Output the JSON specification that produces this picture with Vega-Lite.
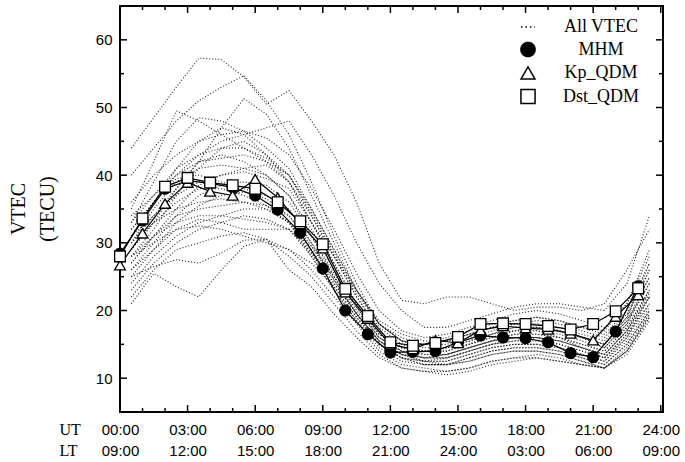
{
"$schema": "https://vega.github.io/schema/vega-lite/v6.json",
"width": 543, "height": 406,
"autosize": "none",
"padding": {"left": 120, "top": 6, "right": 22, "bottom": 50},
"background": "white",
"config": {"view": {"stroke": "black", "strokeWidth": 2}, "scale": {"continuousPadding": 0}},
"title": {"text": ["VTEC", "(TECU)"], "orient": "left", "anchor": "middle", "frame": "group", "baseline": "bottom", "offset": -19, "font": "Liberation Serif", "fontSize": 20, "fontWeight": "normal", "color": "black", "lineHeight": 29},
"datasets": {
"xticks": [
{"hour":0,"kind":"major"},{"hour":1,"kind":"minor"},{"hour":2,"kind":"minor"},{"hour":3,"kind":"major"},{"hour":4,"kind":"minor"},{"hour":5,"kind":"minor"},{"hour":6,"kind":"major"},{"hour":7,"kind":"minor"},{"hour":8,"kind":"minor"},{"hour":9,"kind":"major"},{"hour":10,"kind":"minor"},{"hour":11,"kind":"minor"},{"hour":12,"kind":"major"},{"hour":13,"kind":"minor"},{"hour":14,"kind":"minor"},{"hour":15,"kind":"major"},{"hour":16,"kind":"minor"},{"hour":17,"kind":"minor"},{"hour":18,"kind":"major"},{"hour":19,"kind":"minor"},{"hour":20,"kind":"minor"},{"hour":21,"kind":"major"},{"hour":22,"kind":"minor"},{"hour":23,"kind":"minor"},{"hour":24,"kind":"major"}
],
"yticks": [
{"tec":10,"kind":"major"},{"tec":15,"kind":"minor"},{"tec":20,"kind":"major"},{"tec":25,"kind":"minor"},{"tec":30,"kind":"major"},{"tec":35,"kind":"minor"},{"tec":40,"kind":"major"},{"tec":45,"kind":"minor"},{"tec":50,"kind":"major"},{"tec":55,"kind":"minor"},{"tec":60,"kind":"major"}
],
"days": [
{"day":"C1","hour":0.5,"tec":44},{"day":"C1","hour":1.5,"tec":48.5},{"day":"C1","hour":2.5,"tec":53},{"day":"C1","hour":3.5,"tec":57.3},{"day":"C1","hour":4.5,"tec":57.1},{"day":"C1","hour":5.5,"tec":54.5},{"day":"C1","hour":6.5,"tec":50.5},{"day":"C1","hour":7.5,"tec":52.5},{"day":"C1","hour":8.5,"tec":48},{"day":"C1","hour":9.5,"tec":43},{"day":"C1","hour":10.5,"tec":36},{"day":"C1","hour":11.5,"tec":27},{"day":"C1","hour":12.5,"tec":21.5},{"day":"C1","hour":13.5,"tec":21},{"day":"C1","hour":14.5,"tec":22},{"day":"C1","hour":15.5,"tec":22},{"day":"C1","hour":16.5,"tec":21},{"day":"C1","hour":17.5,"tec":20},{"day":"C1","hour":18.5,"tec":20.5},{"day":"C1","hour":19.5,"tec":20.5},{"day":"C1","hour":20.5,"tec":20},{"day":"C1","hour":21.5,"tec":21},{"day":"C1","hour":22.5,"tec":26},{"day":"C1","hour":23.5,"tec":32},
{"day":"C2","hour":0.5,"tec":40},{"day":"C2","hour":1.5,"tec":44},{"day":"C2","hour":2.5,"tec":48},{"day":"C2","hour":3.5,"tec":51},{"day":"C2","hour":4.5,"tec":53},{"day":"C2","hour":5.5,"tec":54.7},{"day":"C2","hour":6.5,"tec":51},{"day":"C2","hour":7.5,"tec":46},{"day":"C2","hour":8.5,"tec":39},{"day":"C2","hour":9.5,"tec":31},{"day":"C2","hour":10.5,"tec":24},{"day":"C2","hour":11.5,"tec":18},{"day":"C2","hour":12.5,"tec":15.5},{"day":"C2","hour":13.5,"tec":15},{"day":"C2","hour":14.5,"tec":16},{"day":"C2","hour":15.5,"tec":17},{"day":"C2","hour":16.5,"tec":18},{"day":"C2","hour":17.5,"tec":18.5},{"day":"C2","hour":18.5,"tec":19},{"day":"C2","hour":19.5,"tec":18.5},{"day":"C2","hour":20.5,"tec":17.5},{"day":"C2","hour":21.5,"tec":17},{"day":"C2","hour":22.5,"tec":21},{"day":"C2","hour":23.5,"tec":28},
{"day":"C3","hour":0.5,"tec":35},{"day":"C3","hour":1.5,"tec":42},{"day":"C3","hour":2.5,"tec":49.5},{"day":"C3","hour":3.5,"tec":48},{"day":"C3","hour":4.5,"tec":46},{"day":"C3","hour":5.5,"tec":44},{"day":"C3","hour":6.5,"tec":42},{"day":"C3","hour":7.5,"tec":39},{"day":"C3","hour":8.5,"tec":34},{"day":"C3","hour":9.5,"tec":28},{"day":"C3","hour":10.5,"tec":22},{"day":"C3","hour":11.5,"tec":17.5},{"day":"C3","hour":12.5,"tec":15},{"day":"C3","hour":13.5,"tec":14},{"day":"C3","hour":14.5,"tec":14.5},{"day":"C3","hour":15.5,"tec":15},{"day":"C3","hour":16.5,"tec":16},{"day":"C3","hour":17.5,"tec":17},{"day":"C3","hour":18.5,"tec":17},{"day":"C3","hour":19.5,"tec":16.5},{"day":"C3","hour":20.5,"tec":15.5},{"day":"C3","hour":21.5,"tec":14.5},{"day":"C3","hour":22.5,"tec":18},{"day":"C3","hour":23.5,"tec":25},
{"day":"C4","hour":0.5,"tec":33},{"day":"C4","hour":1.5,"tec":39},{"day":"C4","hour":2.5,"tec":45},{"day":"C4","hour":3.5,"tec":48.5},{"day":"C4","hour":4.5,"tec":48},{"day":"C4","hour":5.5,"tec":46.5},{"day":"C4","hour":6.5,"tec":44},{"day":"C4","hour":7.5,"tec":41},{"day":"C4","hour":8.5,"tec":35},{"day":"C4","hour":9.5,"tec":29},{"day":"C4","hour":10.5,"tec":23},{"day":"C4","hour":11.5,"tec":18},{"day":"C4","hour":12.5,"tec":15.5},{"day":"C4","hour":13.5,"tec":15},{"day":"C4","hour":14.5,"tec":15},{"day":"C4","hour":15.5,"tec":16},{"day":"C4","hour":16.5,"tec":17},{"day":"C4","hour":17.5,"tec":18},{"day":"C4","hour":18.5,"tec":18},{"day":"C4","hour":19.5,"tec":17.5},{"day":"C4","hour":20.5,"tec":16.5},{"day":"C4","hour":21.5,"tec":15.5},{"day":"C4","hour":22.5,"tec":19},{"day":"C4","hour":23.5,"tec":26},
{"day":"C5","hour":0.5,"tec":30},{"day":"C5","hour":1.5,"tec":34},{"day":"C5","hour":2.5,"tec":38},{"day":"C5","hour":3.5,"tec":42},{"day":"C5","hour":4.5,"tec":47},{"day":"C5","hour":5.5,"tec":51.3},{"day":"C5","hour":6.5,"tec":49},{"day":"C5","hour":7.5,"tec":44},{"day":"C5","hour":8.5,"tec":37},{"day":"C5","hour":9.5,"tec":30},{"day":"C5","hour":10.5,"tec":23},{"day":"C5","hour":11.5,"tec":18},{"day":"C5","hour":12.5,"tec":15.5},{"day":"C5","hour":13.5,"tec":15},{"day":"C5","hour":14.5,"tec":15.5},{"day":"C5","hour":15.5,"tec":16.5},{"day":"C5","hour":16.5,"tec":17.5},{"day":"C5","hour":17.5,"tec":18},{"day":"C5","hour":18.5,"tec":18},{"day":"C5","hour":19.5,"tec":17},{"day":"C5","hour":20.5,"tec":16},{"day":"C5","hour":21.5,"tec":15},{"day":"C5","hour":22.5,"tec":19},{"day":"C5","hour":23.5,"tec":27},
{"day":"C6","hour":0.5,"tec":31},{"day":"C6","hour":1.5,"tec":36},{"day":"C6","hour":2.5,"tec":41},{"day":"C6","hour":3.5,"tec":45},{"day":"C6","hour":4.5,"tec":47},{"day":"C6","hour":5.5,"tec":46},{"day":"C6","hour":6.5,"tec":43},{"day":"C6","hour":7.5,"tec":39},{"day":"C6","hour":8.5,"tec":33},{"day":"C6","hour":9.5,"tec":27},{"day":"C6","hour":10.5,"tec":21},{"day":"C6","hour":11.5,"tec":16.5},{"day":"C6","hour":12.5,"tec":14.5},{"day":"C6","hour":13.5,"tec":14},{"day":"C6","hour":14.5,"tec":14},{"day":"C6","hour":15.5,"tec":15},{"day":"C6","hour":16.5,"tec":16},{"day":"C6","hour":17.5,"tec":17},{"day":"C6","hour":18.5,"tec":17.5},{"day":"C6","hour":19.5,"tec":17},{"day":"C6","hour":20.5,"tec":16},{"day":"C6","hour":21.5,"tec":14.5},{"day":"C6","hour":22.5,"tec":18},{"day":"C6","hour":23.5,"tec":24},
{"day":"C7","hour":0.5,"tec":28},{"day":"C7","hour":1.5,"tec":32},{"day":"C7","hour":2.5,"tec":37},{"day":"C7","hour":3.5,"tec":41},{"day":"C7","hour":4.5,"tec":44},{"day":"C7","hour":5.5,"tec":45},{"day":"C7","hour":6.5,"tec":43},{"day":"C7","hour":7.5,"tec":40},{"day":"C7","hour":8.5,"tec":34},{"day":"C7","hour":9.5,"tec":28},{"day":"C7","hour":10.5,"tec":22},{"day":"C7","hour":11.5,"tec":17},{"day":"C7","hour":12.5,"tec":14.5},{"day":"C7","hour":13.5,"tec":14},{"day":"C7","hour":14.5,"tec":14.5},{"day":"C7","hour":15.5,"tec":15.5},{"day":"C7","hour":16.5,"tec":16.5},{"day":"C7","hour":17.5,"tec":17},{"day":"C7","hour":18.5,"tec":17},{"day":"C7","hour":19.5,"tec":16},{"day":"C7","hour":20.5,"tec":15},{"day":"C7","hour":21.5,"tec":14},{"day":"C7","hour":22.5,"tec":17.5},{"day":"C7","hour":23.5,"tec":23},
{"day":"C8","hour":0.5,"tec":29},{"day":"C8","hour":1.5,"tec":33},{"day":"C8","hour":2.5,"tec":38},{"day":"C8","hour":3.5,"tec":42},{"day":"C8","hour":4.5,"tec":43},{"day":"C8","hour":5.5,"tec":42},{"day":"C8","hour":6.5,"tec":40},{"day":"C8","hour":7.5,"tec":37},{"day":"C8","hour":8.5,"tec":32},{"day":"C8","hour":9.5,"tec":26},{"day":"C8","hour":10.5,"tec":20.5},{"day":"C8","hour":11.5,"tec":16},{"day":"C8","hour":12.5,"tec":14},{"day":"C8","hour":13.5,"tec":13.5},{"day":"C8","hour":14.5,"tec":13.5},{"day":"C8","hour":15.5,"tec":14.5},{"day":"C8","hour":16.5,"tec":15.5},{"day":"C8","hour":17.5,"tec":16.5},{"day":"C8","hour":18.5,"tec":16.5},{"day":"C8","hour":19.5,"tec":16},{"day":"C8","hour":20.5,"tec":14.5},{"day":"C8","hour":21.5,"tec":13.5},{"day":"C8","hour":22.5,"tec":17},{"day":"C8","hour":23.5,"tec":22},
{"day":"C9","hour":0.5,"tec":30},{"day":"C9","hour":1.5,"tec":35},{"day":"C9","hour":2.5,"tec":39},{"day":"C9","hour":3.5,"tec":41},{"day":"C9","hour":4.5,"tec":41.5},{"day":"C9","hour":5.5,"tec":41},{"day":"C9","hour":6.5,"tec":40},{"day":"C9","hour":7.5,"tec":37},{"day":"C9","hour":8.5,"tec":31},{"day":"C9","hour":9.5,"tec":25},{"day":"C9","hour":10.5,"tec":19.5},{"day":"C9","hour":11.5,"tec":15},{"day":"C9","hour":12.5,"tec":13},{"day":"C9","hour":13.5,"tec":12.5},{"day":"C9","hour":14.5,"tec":13},{"day":"C9","hour":15.5,"tec":14},{"day":"C9","hour":16.5,"tec":15},{"day":"C9","hour":17.5,"tec":16},{"day":"C9","hour":18.5,"tec":16},{"day":"C9","hour":19.5,"tec":15},{"day":"C9","hour":20.5,"tec":14},{"day":"C9","hour":21.5,"tec":13},{"day":"C9","hour":22.5,"tec":16},{"day":"C9","hour":23.5,"tec":22},
{"day":"C10","hour":0.5,"tec":27},{"day":"C10","hour":1.5,"tec":31},{"day":"C10","hour":2.5,"tec":35},{"day":"C10","hour":3.5,"tec":38.5},{"day":"C10","hour":4.5,"tec":40},{"day":"C10","hour":5.5,"tec":41},{"day":"C10","hour":6.5,"tec":41.5},{"day":"C10","hour":7.5,"tec":39},{"day":"C10","hour":8.5,"tec":33},{"day":"C10","hour":9.5,"tec":27},{"day":"C10","hour":10.5,"tec":21},{"day":"C10","hour":11.5,"tec":16.5},{"day":"C10","hour":12.5,"tec":14.5},{"day":"C10","hour":13.5,"tec":14},{"day":"C10","hour":14.5,"tec":14},{"day":"C10","hour":15.5,"tec":15},{"day":"C10","hour":16.5,"tec":16.5},{"day":"C10","hour":17.5,"tec":17.5},{"day":"C10","hour":18.5,"tec":17.5},{"day":"C10","hour":19.5,"tec":17},{"day":"C10","hour":20.5,"tec":16},{"day":"C10","hour":21.5,"tec":15},{"day":"C10","hour":22.5,"tec":18.5},{"day":"C10","hour":23.5,"tec":24},
{"day":"C11","hour":0.5,"tec":32},{"day":"C11","hour":1.5,"tec":36},{"day":"C11","hour":2.5,"tec":39.5},{"day":"C11","hour":3.5,"tec":40},{"day":"C11","hour":4.5,"tec":39},{"day":"C11","hour":5.5,"tec":38},{"day":"C11","hour":6.5,"tec":37},{"day":"C11","hour":7.5,"tec":35},{"day":"C11","hour":8.5,"tec":30},{"day":"C11","hour":9.5,"tec":24.5},{"day":"C11","hour":10.5,"tec":19.5},{"day":"C11","hour":11.5,"tec":15.5},{"day":"C11","hour":12.5,"tec":13.5},{"day":"C11","hour":13.5,"tec":13},{"day":"C11","hour":14.5,"tec":13},{"day":"C11","hour":15.5,"tec":14},{"day":"C11","hour":16.5,"tec":15},{"day":"C11","hour":17.5,"tec":15.5},{"day":"C11","hour":18.5,"tec":15.5},{"day":"C11","hour":19.5,"tec":15},{"day":"C11","hour":20.5,"tec":14},{"day":"C11","hour":21.5,"tec":13},{"day":"C11","hour":22.5,"tec":16.5},{"day":"C11","hour":23.5,"tec":21},
{"day":"C12","hour":0.5,"tec":26},{"day":"C12","hour":1.5,"tec":30},{"day":"C12","hour":2.5,"tec":34},{"day":"C12","hour":3.5,"tec":37},{"day":"C12","hour":4.5,"tec":38.5},{"day":"C12","hour":5.5,"tec":39},{"day":"C12","hour":6.5,"tec":38.5},{"day":"C12","hour":7.5,"tec":36},{"day":"C12","hour":8.5,"tec":31},{"day":"C12","hour":9.5,"tec":25.5},{"day":"C12","hour":10.5,"tec":20.5},{"day":"C12","hour":11.5,"tec":16},{"day":"C12","hour":12.5,"tec":14},{"day":"C12","hour":13.5,"tec":13},{"day":"C12","hour":14.5,"tec":13.5},{"day":"C12","hour":15.5,"tec":14.5},{"day":"C12","hour":16.5,"tec":15.5},{"day":"C12","hour":17.5,"tec":16},{"day":"C12","hour":18.5,"tec":16},{"day":"C12","hour":19.5,"tec":15.5},{"day":"C12","hour":20.5,"tec":14.5},{"day":"C12","hour":21.5,"tec":13.5},{"day":"C12","hour":22.5,"tec":17},{"day":"C12","hour":23.5,"tec":23},
{"day":"C13","hour":0.5,"tec":29},{"day":"C13","hour":1.5,"tec":33},{"day":"C13","hour":2.5,"tec":36},{"day":"C13","hour":3.5,"tec":38},{"day":"C13","hour":4.5,"tec":38},{"day":"C13","hour":5.5,"tec":37},{"day":"C13","hour":6.5,"tec":35.5},{"day":"C13","hour":7.5,"tec":33},{"day":"C13","hour":8.5,"tec":28},{"day":"C13","hour":9.5,"tec":23},{"day":"C13","hour":10.5,"tec":18.5},{"day":"C13","hour":11.5,"tec":14.5},{"day":"C13","hour":12.5,"tec":12.5},{"day":"C13","hour":13.5,"tec":12},{"day":"C13","hour":14.5,"tec":12},{"day":"C13","hour":15.5,"tec":13},{"day":"C13","hour":16.5,"tec":14},{"day":"C13","hour":17.5,"tec":14.5},{"day":"C13","hour":18.5,"tec":14.5},{"day":"C13","hour":19.5,"tec":14},{"day":"C13","hour":20.5,"tec":13},{"day":"C13","hour":21.5,"tec":12},{"day":"C13","hour":22.5,"tec":15},{"day":"C13","hour":23.5,"tec":20},
{"day":"C14","hour":0.5,"tec":25},{"day":"C14","hour":1.5,"tec":29},{"day":"C14","hour":2.5,"tec":33},{"day":"C14","hour":3.5,"tec":35.5},{"day":"C14","hour":4.5,"tec":37},{"day":"C14","hour":5.5,"tec":37.5},{"day":"C14","hour":6.5,"tec":36.5},{"day":"C14","hour":7.5,"tec":34},{"day":"C14","hour":8.5,"tec":29.5},{"day":"C14","hour":9.5,"tec":24.5},{"day":"C14","hour":10.5,"tec":19.5},{"day":"C14","hour":11.5,"tec":15.5},{"day":"C14","hour":12.5,"tec":13.5},{"day":"C14","hour":13.5,"tec":12.5},{"day":"C14","hour":14.5,"tec":12.5},{"day":"C14","hour":15.5,"tec":13.5},{"day":"C14","hour":16.5,"tec":14.5},{"day":"C14","hour":17.5,"tec":15},{"day":"C14","hour":18.5,"tec":15},{"day":"C14","hour":19.5,"tec":14.5},{"day":"C14","hour":20.5,"tec":13.5},{"day":"C14","hour":21.5,"tec":12.5},{"day":"C14","hour":22.5,"tec":16},{"day":"C14","hour":23.5,"tec":21},
{"day":"C15","hour":0.5,"tec":27},{"day":"C15","hour":1.5,"tec":31},{"day":"C15","hour":2.5,"tec":34},{"day":"C15","hour":3.5,"tec":35},{"day":"C15","hour":4.5,"tec":35.5},{"day":"C15","hour":5.5,"tec":36},{"day":"C15","hour":6.5,"tec":35.5},{"day":"C15","hour":7.5,"tec":34},{"day":"C15","hour":8.5,"tec":30},{"day":"C15","hour":9.5,"tec":25},{"day":"C15","hour":10.5,"tec":20},{"day":"C15","hour":11.5,"tec":16},{"day":"C15","hour":12.5,"tec":14},{"day":"C15","hour":13.5,"tec":13},{"day":"C15","hour":14.5,"tec":13},{"day":"C15","hour":15.5,"tec":14},{"day":"C15","hour":16.5,"tec":15},{"day":"C15","hour":17.5,"tec":15.5},{"day":"C15","hour":18.5,"tec":16},{"day":"C15","hour":19.5,"tec":15.5},{"day":"C15","hour":20.5,"tec":14.5},{"day":"C15","hour":21.5,"tec":13},{"day":"C15","hour":22.5,"tec":16.5},{"day":"C15","hour":23.5,"tec":22},
{"day":"C16","hour":0.5,"tec":24},{"day":"C16","hour":1.5,"tec":28},{"day":"C16","hour":2.5,"tec":31},{"day":"C16","hour":3.5,"tec":33},{"day":"C16","hour":4.5,"tec":34},{"day":"C16","hour":5.5,"tec":35},{"day":"C16","hour":6.5,"tec":35},{"day":"C16","hour":7.5,"tec":33},{"day":"C16","hour":8.5,"tec":28.5},{"day":"C16","hour":9.5,"tec":23.5},{"day":"C16","hour":10.5,"tec":19},{"day":"C16","hour":11.5,"tec":15},{"day":"C16","hour":12.5,"tec":13},{"day":"C16","hour":13.5,"tec":12},{"day":"C16","hour":14.5,"tec":12},{"day":"C16","hour":15.5,"tec":13},{"day":"C16","hour":16.5,"tec":14},{"day":"C16","hour":17.5,"tec":14.5},{"day":"C16","hour":18.5,"tec":14.5},{"day":"C16","hour":19.5,"tec":14},{"day":"C16","hour":20.5,"tec":13},{"day":"C16","hour":21.5,"tec":12},{"day":"C16","hour":22.5,"tec":15},{"day":"C16","hour":23.5,"tec":20},
{"day":"C17","hour":0.5,"tec":23},{"day":"C17","hour":1.5,"tec":27},{"day":"C17","hour":2.5,"tec":30},{"day":"C17","hour":3.5,"tec":32},{"day":"C17","hour":4.5,"tec":33},{"day":"C17","hour":5.5,"tec":34},{"day":"C17","hour":6.5,"tec":33.5},{"day":"C17","hour":7.5,"tec":32},{"day":"C17","hour":8.5,"tec":28},{"day":"C17","hour":9.5,"tec":23},{"day":"C17","hour":10.5,"tec":18.5},{"day":"C17","hour":11.5,"tec":15},{"day":"C17","hour":12.5,"tec":13},{"day":"C17","hour":13.5,"tec":12.5},{"day":"C17","hour":14.5,"tec":12},{"day":"C17","hour":15.5,"tec":12.5},{"day":"C17","hour":16.5,"tec":13.5},{"day":"C17","hour":17.5,"tec":14},{"day":"C17","hour":18.5,"tec":14},{"day":"C17","hour":19.5,"tec":13.5},{"day":"C17","hour":20.5,"tec":12.5},{"day":"C17","hour":21.5,"tec":11.5},{"day":"C17","hour":22.5,"tec":14},{"day":"C17","hour":23.5,"tec":19},
{"day":"C18","hour":0.5,"tec":21},{"day":"C18","hour":1.5,"tec":25.5},{"day":"C18","hour":2.5,"tec":23.5},{"day":"C18","hour":3.5,"tec":22},{"day":"C18","hour":4.5,"tec":26},{"day":"C18","hour":5.5,"tec":29.5},{"day":"C18","hour":6.5,"tec":30.5},{"day":"C18","hour":7.5,"tec":26},{"day":"C18","hour":8.5,"tec":23.5},{"day":"C18","hour":9.5,"tec":19.5},{"day":"C18","hour":10.5,"tec":16},{"day":"C18","hour":11.5,"tec":13},{"day":"C18","hour":12.5,"tec":11.5},{"day":"C18","hour":13.5,"tec":11},{"day":"C18","hour":14.5,"tec":11},{"day":"C18","hour":15.5,"tec":11.5},{"day":"C18","hour":16.5,"tec":12.5},{"day":"C18","hour":17.5,"tec":13},{"day":"C18","hour":18.5,"tec":13},{"day":"C18","hour":19.5,"tec":12.5},{"day":"C18","hour":20.5,"tec":12},{"day":"C18","hour":21.5,"tec":11.5},{"day":"C18","hour":22.5,"tec":14},{"day":"C18","hour":23.5,"tec":19},
{"day":"C19","hour":0.5,"tec":25},{"day":"C19","hour":1.5,"tec":26.5},{"day":"C19","hour":2.5,"tec":27.5},{"day":"C19","hour":3.5,"tec":27},{"day":"C19","hour":4.5,"tec":28.5},{"day":"C19","hour":5.5,"tec":30.4},{"day":"C19","hour":6.5,"tec":30.5},{"day":"C19","hour":7.5,"tec":28},{"day":"C19","hour":8.5,"tec":25},{"day":"C19","hour":9.5,"tec":21},{"day":"C19","hour":10.5,"tec":17},{"day":"C19","hour":11.5,"tec":13.5},{"day":"C19","hour":12.5,"tec":11.5},{"day":"C19","hour":13.5,"tec":11},{"day":"C19","hour":14.5,"tec":10.5},{"day":"C19","hour":15.5,"tec":11},{"day":"C19","hour":16.5,"tec":12},{"day":"C19","hour":17.5,"tec":12.5},{"day":"C19","hour":18.5,"tec":13},{"day":"C19","hour":19.5,"tec":12.5},{"day":"C19","hour":20.5,"tec":12},{"day":"C19","hour":21.5,"tec":11.5},{"day":"C19","hour":22.5,"tec":13.5},{"day":"C19","hour":23.5,"tec":18.5},
{"day":"C20","hour":0.5,"tec":22},{"day":"C20","hour":1.5,"tec":26},{"day":"C20","hour":2.5,"tec":29},{"day":"C20","hour":3.5,"tec":30},{"day":"C20","hour":4.5,"tec":31},{"day":"C20","hour":5.5,"tec":31.5},{"day":"C20","hour":6.5,"tec":30.5},{"day":"C20","hour":7.5,"tec":29},{"day":"C20","hour":8.5,"tec":26},{"day":"C20","hour":9.5,"tec":22},{"day":"C20","hour":10.5,"tec":18},{"day":"C20","hour":11.5,"tec":14},{"day":"C20","hour":12.5,"tec":12},{"day":"C20","hour":13.5,"tec":11.5},{"day":"C20","hour":14.5,"tec":11},{"day":"C20","hour":15.5,"tec":11.5},{"day":"C20","hour":16.5,"tec":12.5},{"day":"C20","hour":17.5,"tec":13},{"day":"C20","hour":18.5,"tec":13.5},{"day":"C20","hour":19.5,"tec":13},{"day":"C20","hour":20.5,"tec":12},{"day":"C20","hour":21.5,"tec":11.5},{"day":"C20","hour":22.5,"tec":14},{"day":"C20","hour":23.5,"tec":19.5},
{"day":"C21","hour":0.5,"tec":34},{"day":"C21","hour":1.5,"tec":37},{"day":"C21","hour":2.5,"tec":41},{"day":"C21","hour":3.5,"tec":43},{"day":"C21","hour":4.5,"tec":44},{"day":"C21","hour":5.5,"tec":44},{"day":"C21","hour":6.5,"tec":42.5},{"day":"C21","hour":7.5,"tec":40},{"day":"C21","hour":8.5,"tec":34.5},{"day":"C21","hour":9.5,"tec":28.5},{"day":"C21","hour":10.5,"tec":22.5},{"day":"C21","hour":11.5,"tec":18},{"day":"C21","hour":12.5,"tec":16},{"day":"C21","hour":13.5,"tec":15},{"day":"C21","hour":14.5,"tec":15.5},{"day":"C21","hour":15.5,"tec":16.5},{"day":"C21","hour":16.5,"tec":17.5},{"day":"C21","hour":17.5,"tec":18},{"day":"C21","hour":18.5,"tec":18.5},{"day":"C21","hour":19.5,"tec":18},{"day":"C21","hour":20.5,"tec":17},{"day":"C21","hour":21.5,"tec":16},{"day":"C21","hour":22.5,"tec":19.5},{"day":"C21","hour":23.5,"tec":26},
{"day":"C22","hour":0.5,"tec":31},{"day":"C22","hour":1.5,"tec":34},{"day":"C22","hour":2.5,"tec":37},{"day":"C22","hour":3.5,"tec":39},{"day":"C22","hour":4.5,"tec":40},{"day":"C22","hour":5.5,"tec":40.5},{"day":"C22","hour":6.5,"tec":39.5},{"day":"C22","hour":7.5,"tec":38},{"day":"C22","hour":8.5,"tec":33},{"day":"C22","hour":9.5,"tec":28},{"day":"C22","hour":10.5,"tec":23},{"day":"C22","hour":11.5,"tec":18.5},{"day":"C22","hour":12.5,"tec":16.5},{"day":"C22","hour":13.5,"tec":15.5},{"day":"C22","hour":14.5,"tec":15.5},{"day":"C22","hour":15.5,"tec":16.5},{"day":"C22","hour":16.5,"tec":17.5},{"day":"C22","hour":17.5,"tec":18.5},{"day":"C22","hour":18.5,"tec":19},{"day":"C22","hour":19.5,"tec":18.5},{"day":"C22","hour":20.5,"tec":17.5},{"day":"C22","hour":21.5,"tec":16.5},{"day":"C22","hour":22.5,"tec":20},{"day":"C22","hour":23.5,"tec":27},
{"day":"C23","hour":0.5,"tec":28},{"day":"C23","hour":1.5,"tec":31},{"day":"C23","hour":2.5,"tec":33},{"day":"C23","hour":3.5,"tec":34},{"day":"C23","hour":4.5,"tec":34},{"day":"C23","hour":5.5,"tec":33.5},{"day":"C23","hour":6.5,"tec":33},{"day":"C23","hour":7.5,"tec":32},{"day":"C23","hour":8.5,"tec":28.5},{"day":"C23","hour":9.5,"tec":24},{"day":"C23","hour":10.5,"tec":19.5},{"day":"C23","hour":11.5,"tec":15.5},{"day":"C23","hour":12.5,"tec":13.5},{"day":"C23","hour":13.5,"tec":12.5},{"day":"C23","hour":14.5,"tec":12.5},{"day":"C23","hour":15.5,"tec":13.5},{"day":"C23","hour":16.5,"tec":14.5},{"day":"C23","hour":17.5,"tec":15},{"day":"C23","hour":18.5,"tec":15},{"day":"C23","hour":19.5,"tec":14.5},{"day":"C23","hour":20.5,"tec":13.5},{"day":"C23","hour":21.5,"tec":12.5},{"day":"C23","hour":22.5,"tec":15.5},{"day":"C23","hour":23.5,"tec":20.5},
{"day":"C24","hour":0.5,"tec":30},{"day":"C24","hour":1.5,"tec":33},{"day":"C24","hour":2.5,"tec":35},{"day":"C24","hour":3.5,"tec":36},{"day":"C24","hour":4.5,"tec":36.5},{"day":"C24","hour":5.5,"tec":36},{"day":"C24","hour":6.5,"tec":35},{"day":"C24","hour":7.5,"tec":33},{"day":"C24","hour":8.5,"tec":29},{"day":"C24","hour":9.5,"tec":24},{"day":"C24","hour":10.5,"tec":19.5},{"day":"C24","hour":11.5,"tec":15.5},{"day":"C24","hour":12.5,"tec":13.5},{"day":"C24","hour":13.5,"tec":13},{"day":"C24","hour":14.5,"tec":13.5},{"day":"C24","hour":15.5,"tec":14.5},{"day":"C24","hour":16.5,"tec":15.5},{"day":"C24","hour":17.5,"tec":16},{"day":"C24","hour":18.5,"tec":16},{"day":"C24","hour":19.5,"tec":15.5},{"day":"C24","hour":20.5,"tec":14.5},{"day":"C24","hour":21.5,"tec":13.5},{"day":"C24","hour":22.5,"tec":17},{"day":"C24","hour":23.5,"tec":22.5},
{"day":"C25","hour":0.5,"tec":26},{"day":"C25","hour":1.5,"tec":29},{"day":"C25","hour":2.5,"tec":32},{"day":"C25","hour":3.5,"tec":33.5},{"day":"C25","hour":4.5,"tec":33},{"day":"C25","hour":5.5,"tec":32},{"day":"C25","hour":6.5,"tec":32},{"day":"C25","hour":7.5,"tec":32},{"day":"C25","hour":8.5,"tec":29.5},{"day":"C25","hour":9.5,"tec":25},{"day":"C25","hour":10.5,"tec":20.5},{"day":"C25","hour":11.5,"tec":16.5},{"day":"C25","hour":12.5,"tec":14.5},{"day":"C25","hour":13.5,"tec":13.5},{"day":"C25","hour":14.5,"tec":13.5},{"day":"C25","hour":15.5,"tec":14.5},{"day":"C25","hour":16.5,"tec":15.5},{"day":"C25","hour":17.5,"tec":16.5},{"day":"C25","hour":18.5,"tec":16.5},{"day":"C25","hour":19.5,"tec":16},{"day":"C25","hour":20.5,"tec":15},{"day":"C25","hour":21.5,"tec":14},{"day":"C25","hour":22.5,"tec":17.5},{"day":"C25","hour":23.5,"tec":23},
{"day":"C26","hour":0.5,"tec":33},{"day":"C26","hour":1.5,"tec":37},{"day":"C26","hour":2.5,"tec":40},{"day":"C26","hour":3.5,"tec":42},{"day":"C26","hour":4.5,"tec":42.5},{"day":"C26","hour":5.5,"tec":43},{"day":"C26","hour":6.5,"tec":42},{"day":"C26","hour":7.5,"tec":40},{"day":"C26","hour":8.5,"tec":35},{"day":"C26","hour":9.5,"tec":29},{"day":"C26","hour":10.5,"tec":23},{"day":"C26","hour":11.5,"tec":18},{"day":"C26","hour":12.5,"tec":15.5},{"day":"C26","hour":13.5,"tec":14.5},{"day":"C26","hour":14.5,"tec":14.5},{"day":"C26","hour":15.5,"tec":15.5},{"day":"C26","hour":16.5,"tec":16.5},{"day":"C26","hour":17.5,"tec":17.5},{"day":"C26","hour":18.5,"tec":17.5},{"day":"C26","hour":19.5,"tec":17},{"day":"C26","hour":20.5,"tec":16},{"day":"C26","hour":21.5,"tec":15},{"day":"C26","hour":22.5,"tec":18.5},{"day":"C26","hour":23.5,"tec":25},
{"day":"C27","hour":0.5,"tec":36},{"day":"C27","hour":1.5,"tec":40},{"day":"C27","hour":2.5,"tec":43},{"day":"C27","hour":3.5,"tec":45},{"day":"C27","hour":4.5,"tec":46},{"day":"C27","hour":5.5,"tec":46.5},{"day":"C27","hour":6.5,"tec":45.5},{"day":"C27","hour":7.5,"tec":43},{"day":"C27","hour":8.5,"tec":38},{"day":"C27","hour":9.5,"tec":32},{"day":"C27","hour":10.5,"tec":25.5},{"day":"C27","hour":11.5,"tec":20},{"day":"C27","hour":12.5,"tec":17},{"day":"C27","hour":13.5,"tec":16},{"day":"C27","hour":14.5,"tec":16.5},{"day":"C27","hour":15.5,"tec":17.5},{"day":"C27","hour":16.5,"tec":18.5},{"day":"C27","hour":17.5,"tec":19.5},{"day":"C27","hour":18.5,"tec":20},{"day":"C27","hour":19.5,"tec":19.5},{"day":"C27","hour":20.5,"tec":18.5},{"day":"C27","hour":21.5,"tec":17.5},{"day":"C27","hour":22.5,"tec":21},{"day":"C27","hour":23.5,"tec":29},
{"day":"C28","hour":0.5,"tec":28},{"day":"C28","hour":1.5,"tec":30},{"day":"C28","hour":2.5,"tec":32},{"day":"C28","hour":3.5,"tec":32.5},{"day":"C28","hour":4.5,"tec":32},{"day":"C28","hour":5.5,"tec":31},{"day":"C28","hour":6.5,"tec":30},{"day":"C28","hour":7.5,"tec":29},{"day":"C28","hour":8.5,"tec":27},{"day":"C28","hour":9.5,"tec":23.5},{"day":"C28","hour":10.5,"tec":19},{"day":"C28","hour":11.5,"tec":15},{"day":"C28","hour":12.5,"tec":13},{"day":"C28","hour":13.5,"tec":12},{"day":"C28","hour":14.5,"tec":12},{"day":"C28","hour":15.5,"tec":12.5},{"day":"C28","hour":16.5,"tec":13.5},{"day":"C28","hour":17.5,"tec":14},{"day":"C28","hour":18.5,"tec":14},{"day":"C28","hour":19.5,"tec":13.5},{"day":"C28","hour":20.5,"tec":12.5},{"day":"C28","hour":21.5,"tec":11.5},{"day":"C28","hour":22.5,"tec":14.5},{"day":"C28","hour":23.5,"tec":19.5},
{"day":"C29","hour":0.5,"tec":32},{"day":"C29","hour":1.5,"tec":36},{"day":"C29","hour":2.5,"tec":40},{"day":"C29","hour":3.5,"tec":43},{"day":"C29","hour":4.5,"tec":45},{"day":"C29","hour":5.5,"tec":46},{"day":"C29","hour":6.5,"tec":47},{"day":"C29","hour":7.5,"tec":48},{"day":"C29","hour":8.5,"tec":43},{"day":"C29","hour":9.5,"tec":37},{"day":"C29","hour":10.5,"tec":30},{"day":"C29","hour":11.5,"tec":24},{"day":"C29","hour":12.5,"tec":20},{"day":"C29","hour":13.5,"tec":17.5},{"day":"C29","hour":14.5,"tec":17.5},{"day":"C29","hour":15.5,"tec":18.5},{"day":"C29","hour":16.5,"tec":19.5},{"day":"C29","hour":17.5,"tec":20.5},{"day":"C29","hour":18.5,"tec":21},{"day":"C29","hour":19.5,"tec":21},{"day":"C29","hour":20.5,"tec":20.5},{"day":"C29","hour":21.5,"tec":20},{"day":"C29","hour":22.5,"tec":24},{"day":"C29","hour":23.5,"tec":34}
],
"models": [
{"model":"MHM","hour":0,"tec":28.4},{"model":"MHM","hour":1,"tec":33.3},{"model":"MHM","hour":2,"tec":38.0},{"model":"MHM","hour":3,"tec":39.2},{"model":"MHM","hour":4,"tec":38.8},{"model":"MHM","hour":5,"tec":38.2},{"model":"MHM","hour":6,"tec":37.0},{"model":"MHM","hour":7,"tec":34.9},{"model":"MHM","hour":8,"tec":31.5},{"model":"MHM","hour":9,"tec":26.2},{"model":"MHM","hour":10,"tec":20.0},{"model":"MHM","hour":11,"tec":16.5},{"model":"MHM","hour":12,"tec":13.8},{"model":"MHM","hour":13,"tec":13.9},{"model":"MHM","hour":14,"tec":14.0},{"model":"MHM","hour":15,"tec":15.3},{"model":"MHM","hour":16,"tec":16.3},{"model":"MHM","hour":17,"tec":16.0},{"model":"MHM","hour":18,"tec":15.9},{"model":"MHM","hour":19,"tec":15.3},{"model":"MHM","hour":20,"tec":13.7},{"model":"MHM","hour":21,"tec":13.1},{"model":"MHM","hour":22,"tec":16.9},{"model":"MHM","hour":23,"tec":23.6},
{"model":"Kp_QDM","hour":0,"tec":26.7},{"model":"Kp_QDM","hour":1,"tec":31.4},{"model":"Kp_QDM","hour":2,"tec":35.8},{"model":"Kp_QDM","hour":3,"tec":38.9},{"model":"Kp_QDM","hour":4,"tec":37.6},{"model":"Kp_QDM","hour":5,"tec":37.0},{"model":"Kp_QDM","hour":6,"tec":39.4},{"model":"Kp_QDM","hour":7,"tec":36.7},{"model":"Kp_QDM","hour":8,"tec":32.8},{"model":"Kp_QDM","hour":9,"tec":29.2},{"model":"Kp_QDM","hour":10,"tec":22.7},{"model":"Kp_QDM","hour":11,"tec":18.8},{"model":"Kp_QDM","hour":12,"tec":15.0},{"model":"Kp_QDM","hour":13,"tec":14.3},{"model":"Kp_QDM","hour":14,"tec":15.6},{"model":"Kp_QDM","hour":15,"tec":15.2},{"model":"Kp_QDM","hour":16,"tec":17.1},{"model":"Kp_QDM","hour":17,"tec":17.7},{"model":"Kp_QDM","hour":18,"tec":17.4},{"model":"Kp_QDM","hour":19,"tec":17.2},{"model":"Kp_QDM","hour":20,"tec":16.6},{"model":"Kp_QDM","hour":21,"tec":15.6},{"model":"Kp_QDM","hour":22,"tec":19.1},{"model":"Kp_QDM","hour":23,"tec":22.3},
{"model":"Dst_QDM","hour":0,"tec":28.0},{"model":"Dst_QDM","hour":1,"tec":33.6},{"model":"Dst_QDM","hour":2,"tec":38.3},{"model":"Dst_QDM","hour":3,"tec":39.6},{"model":"Dst_QDM","hour":4,"tec":38.9},{"model":"Dst_QDM","hour":5,"tec":38.5},{"model":"Dst_QDM","hour":6,"tec":38.0},{"model":"Dst_QDM","hour":7,"tec":36.0},{"model":"Dst_QDM","hour":8,"tec":33.2},{"model":"Dst_QDM","hour":9,"tec":29.8},{"model":"Dst_QDM","hour":10,"tec":23.2},{"model":"Dst_QDM","hour":11,"tec":19.2},{"model":"Dst_QDM","hour":12,"tec":15.3},{"model":"Dst_QDM","hour":13,"tec":14.8},{"model":"Dst_QDM","hour":14,"tec":15.2},{"model":"Dst_QDM","hour":15,"tec":16.1},{"model":"Dst_QDM","hour":16,"tec":18.0},{"model":"Dst_QDM","hour":17,"tec":18.1},{"model":"Dst_QDM","hour":18,"tec":18.0},{"model":"Dst_QDM","hour":19,"tec":17.7},{"model":"Dst_QDM","hour":20,"tec":17.2},{"model":"Dst_QDM","hour":21,"tec":18.0},{"model":"Dst_QDM","hour":22,"tec":19.9},{"model":"Dst_QDM","hour":23,"tec":23.3}
]
},
"layer": [
{
"data": {"name": "days"},
"mark": {"type": "line", "stroke": "#222222", "strokeWidth": 1.1, "strokeDash": [1, 2], "clip": true},
"encoding": {
"x": {"field": "hour", "type": "quantitative", "scale": {"domain": [0, 24.1], "nice": false, "zero": false, "padding": 0},
"axis": {"orient": "bottom", "values": [0,3,6,9,12,15,18,21,24], "domain": false, "grid": false, "ticks": false, "tickSize": 0,
"labelExpr": "[format(datum.value, '02d') + ':00', format(datum.value + 9 <= 24 ? datum.value + 9 : datum.value - 15, '02d') + ':00']",
"labelFont": "Liberation Sans", "labelFontSize": 15, "labelColor": "black", "labelLineHeight": 21, "labelPadding": 10, "labelOverlap": false, "labelFlush": false, "labelBound": false, "labelAlign": "center", "labelBaseline": "top",
"title": ["UT", "LT"], "titleFont": "Liberation Serif", "titleFontSize": 16, "titleFontWeight": "normal", "titleColor": "black", "titleX": -61, "titleY": 9, "titleAlign": "left", "titleBaseline": "top", "titleLineHeight": 21, "titleAngle": 0}},
"y": {"field": "tec", "type": "quantitative", "scale": {"domain": [5, 65], "nice": false, "zero": false, "padding": 0},
"axis": {"orient": "left", "values": [10,20,30,40,50,60], "domain": false, "grid": false, "ticks": false, "tickSize": 0,
"labelFont": "Liberation Sans", "labelFontSize": 15, "labelColor": "black", "labelPadding": 8, "labelOverlap": false, "labelFlush": false, "labelBound": false,
"title": null}},
"detail": {"field": "day", "type": "nominal"}
}
},
{
"data": {"name": "models"},
"mark": {"type": "line", "stroke": "black", "strokeWidth": 1.2},
"encoding": {
"x": {"field": "hour", "type": "quantitative"},
"y": {"field": "tec", "type": "quantitative"},
"detail": {"field": "model", "type": "nominal"}
}
},
{
"data": {"name": "models"},
"mark": {"type": "point", "filled": true, "size": 115, "strokeWidth": 1.3, "opacity": 1},
"encoding": {
"x": {"field": "hour", "type": "quantitative"},
"y": {"field": "tec", "type": "quantitative"},
"fill": {"field": "model", "type": "nominal", "scale": {"domain": ["All VTEC", "MHM", "Kp_QDM", "Dst_QDM"], "range": ["white", "black", "white", "white"]},
"legend": {"orient": "none", "legendX": 399, "legendY": 12, "title": null, "padding": 0, "symbolOffset": 0, "labelOffset": 64, "labelAlign": "center", "labelFont": "Liberation Serif", "labelFontSize": 18, "labelColor": "black", "rowPadding": 2.5, "symbolSize": 200, "symbolStrokeColor": "black", "symbolStrokeWidth": 1.5, "symbolOpacity": 1}},
"stroke": {"field": "model", "type": "nominal", "scale": {"domain": ["All VTEC", "MHM", "Kp_QDM", "Dst_QDM"], "range": ["black", "black", "black", "black"]},
"legend": {"orient": "none", "legendX": 399, "legendY": 12, "title": null, "padding": 0, "symbolOffset": 0, "labelOffset": 64, "labelAlign": "center", "labelFont": "Liberation Serif", "labelFontSize": 18, "labelColor": "black", "rowPadding": 2.5, "symbolSize": 200, "symbolStrokeColor": "black", "symbolStrokeWidth": 1.5, "symbolOpacity": 1}},
"shape": {"field": "model", "type": "nominal", "scale": {"domain": ["All VTEC", "MHM", "Kp_QDM", "Dst_QDM"], "range": ["stroke", "circle", "triangle-up", "square"]},
"legend": {"orient": "none", "legendX": 399, "legendY": 12, "title": null, "padding": 0, "symbolOffset": 0, "labelOffset": 64, "labelAlign": "center", "labelFont": "Liberation Serif", "labelFontSize": 18, "labelColor": "black", "rowPadding": 2.5, "symbolSize": 200, "symbolStrokeColor": "black", "symbolStrokeWidth": 1.5, "symbolOpacity": 1}},
"strokeDash": {"field": "model", "type": "nominal", "scale": {"domain": ["All VTEC", "MHM", "Kp_QDM", "Dst_QDM"], "range": [[1.5, 3], [1, 0], [1, 0], [1, 0]]},
"legend": {"orient": "none", "legendX": 399, "legendY": 12, "title": null, "padding": 0, "symbolOffset": 0, "labelOffset": 64, "labelAlign": "center", "labelFont": "Liberation Serif", "labelFontSize": 18, "labelColor": "black", "rowPadding": 2.5, "symbolSize": 200, "symbolStrokeColor": "black", "symbolStrokeWidth": 1.5, "symbolOpacity": 1}}
}
},
{
"data": {"name": "xticks"},
"transform": [{"filter": "datum.kind === 'major'"}],
"mark": {"type": "bar", "size": 1.5, "color": "black", "opacity": 1},
"encoding": {
"x": {"field": "hour", "type": "quantitative"},
"y": {"datum": 5, "type": "quantitative"},
"y2": {"datum": 6.03}
}
},
{
"data": {"name": "xticks"},
"transform": [{"filter": "datum.kind === 'minor'"}],
"mark": {"type": "bar", "size": 1.5, "color": "black", "opacity": 1},
"encoding": {
"x": {"field": "hour", "type": "quantitative"},
"y": {"datum": 5, "type": "quantitative"},
"y2": {"datum": 5.59}
}
},
{
"data": {"name": "xticks"},
"transform": [{"filter": "datum.kind === 'major'"}],
"mark": {"type": "bar", "size": 1.5, "color": "black", "opacity": 1},
"encoding": {
"x": {"field": "hour", "type": "quantitative"},
"y": {"datum": 63.97, "type": "quantitative"},
"y2": {"datum": 65}
}
},
{
"data": {"name": "xticks"},
"transform": [{"filter": "datum.kind === 'minor'"}],
"mark": {"type": "bar", "size": 1.5, "color": "black", "opacity": 1},
"encoding": {
"x": {"field": "hour", "type": "quantitative"},
"y": {"datum": 64.41, "type": "quantitative"},
"y2": {"datum": 65}
}
},
{
"data": {"name": "yticks"},
"transform": [{"filter": "datum.kind === 'major'"}],
"mark": {"type": "bar", "orient": "horizontal", "size": 1.5, "color": "black", "opacity": 1},
"encoding": {
"y": {"field": "tec", "type": "quantitative"},
"x": {"datum": 0, "type": "quantitative"},
"x2": {"datum": 0.31}
}
},
{
"data": {"name": "yticks"},
"transform": [{"filter": "datum.kind === 'minor'"}],
"mark": {"type": "bar", "orient": "horizontal", "size": 1.5, "color": "black", "opacity": 1},
"encoding": {
"y": {"field": "tec", "type": "quantitative"},
"x": {"datum": 0, "type": "quantitative"},
"x2": {"datum": 0.18}
}
},
{
"data": {"name": "yticks"},
"transform": [{"filter": "datum.kind === 'major'"}],
"mark": {"type": "bar", "orient": "horizontal", "size": 1.5, "color": "black", "opacity": 1},
"encoding": {
"y": {"field": "tec", "type": "quantitative"},
"x": {"datum": 23.79, "type": "quantitative"},
"x2": {"datum": 24.1}
}
},
{
"data": {"name": "yticks"},
"transform": [{"filter": "datum.kind === 'minor'"}],
"mark": {"type": "bar", "orient": "horizontal", "size": 1.5, "color": "black", "opacity": 1},
"encoding": {
"y": {"field": "tec", "type": "quantitative"},
"x": {"datum": 23.92, "type": "quantitative"},
"x2": {"datum": 24.1}
}
}
]
}
